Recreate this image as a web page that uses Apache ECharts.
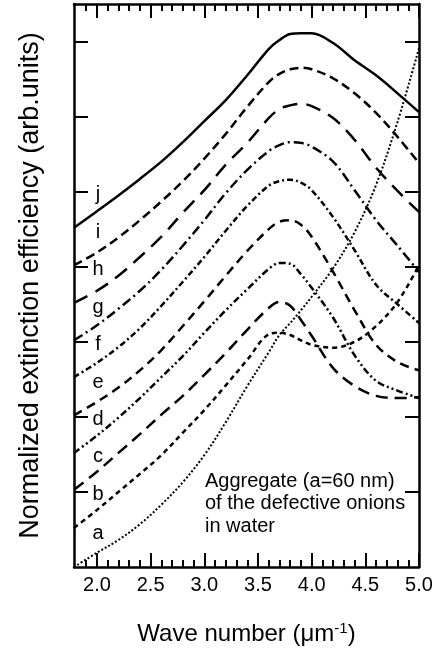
<!DOCTYPE html>
<html>
<head>
<meta charset="utf-8">
<script src="https://cdn.jsdelivr.net/npm/echarts@6/dist/echarts.min.js"></script>
<style>
  html, body { margin: 0; padding: 0; background: #fff; }
  #container { width: 440px; height: 652px; }
</style>
</head>
<body>
<div id="container"></div>
<script>
// wave number grid (um^-1), shared by all curves
var waveNumber = [1.786, 2.0, 2.2, 2.4, 2.6, 2.8, 3.0, 3.2, 3.4, 3.6, 3.7, 3.8, 3.9, 4.0, 4.2, 4.4, 4.6, 4.8, 5.0];

// normalized extinction, each curve shifted by 0.5
var curveA = [0.00, 0.19, 0.36, 0.57, 0.83, 1.13, 1.49, 1.93, 2.41, 2.86, 3.09, 3.25, 3.42, 3.60, 3.98, 4.46, 5.09, 5.93, 6.91];
var curveB = [0.52, 0.76, 1.00, 1.24, 1.49, 1.79, 2.09, 2.42, 2.76, 3.10, 3.12, 3.09, 3.02, 2.96, 2.92, 3.00, 3.21, 3.53, 4.02];
var curveC = [1.03, 1.27, 1.52, 1.77, 2.03, 2.28, 2.56, 2.85, 3.16, 3.45, 3.53, 3.48, 3.29, 3.08, 2.65, 2.41, 2.28, 2.25, 2.26];
var curveD = [1.52, 1.75, 1.99, 2.25, 2.53, 2.81, 3.12, 3.42, 3.70, 3.97, 4.05, 4.04, 3.90, 3.72, 3.32, 2.82, 2.48, 2.35, 2.25];
var curveE = [2.02, 2.20, 2.39, 2.62, 2.89, 3.21, 3.54, 3.88, 4.21, 4.50, 4.60, 4.62, 4.56, 4.40, 3.93, 3.42, 2.96, 2.73, 2.62];
var curveF = [2.53, 2.72, 2.93, 3.18, 3.48, 3.80, 4.13, 4.48, 4.81, 5.08, 5.14, 5.16, 5.12, 5.02, 4.66, 4.22, 3.76, 3.50, 3.25];
var curveG = [3.02, 3.22, 3.44, 3.68, 3.96, 4.28, 4.62, 4.98, 5.29, 5.54, 5.62, 5.66, 5.65, 5.60, 5.40, 5.02, 4.62, 4.28, 3.93];
var curveH = [3.52, 3.68, 3.88, 4.13, 4.40, 4.72, 5.02, 5.36, 5.65, 5.98, 6.10, 6.15, 6.17, 6.14, 5.98, 5.69, 5.32, 5.01, 4.73];
var curveI = [4.02, 4.19, 4.39, 4.62, 4.87, 5.14, 5.44, 5.77, 6.13, 6.46, 6.57, 6.63, 6.65, 6.63, 6.51, 6.31, 6.05, 5.73, 5.38];
var curveJ = [4.52, 4.74, 4.95, 5.17, 5.40, 5.66, 5.94, 6.22, 6.55, 6.90, 7.02, 7.10, 7.11, 7.11, 6.98, 6.75, 6.55, 6.31, 6.06];

var curveNames = ['a', 'b', 'c', 'd', 'e', 'f', 'g', 'h', 'i', 'j'];
var curves = [curveA, curveB, curveC, curveD, curveE, curveF, curveG, curveH, curveI, curveJ];

var xMajorTicks = [2.0, 2.5, 3.0, 3.5, 4.0, 4.5, 5.0];
var xMinorTicks = [1.9, 2.1, 2.2, 2.3, 2.4, 2.6, 2.7, 2.8, 2.9, 3.1, 3.2, 3.3, 3.4, 3.6, 3.7, 3.8, 3.9, 4.1, 4.2, 4.3, 4.4, 4.6, 4.7, 4.8, 4.9];
var yTicks = [1, 2, 3, 4, 5, 6, 7];

// line look per curve
var dashes = [[2, 2], [5, 4], [12, 7], [7, 3, 2, 3, 2, 3], [9, 6], [6, 3, 2, 3], [10, 4, 2, 4], [15, 9], [9, 5], 'solid'];

var font = '"Liberation Sans", Arial, Helvetica, sans-serif';
var black = '#000';

var chart = echarts.init(document.getElementById('container'));

function majorAxis(pos, withLabels) {
    return {
        type: 'value', position: pos, min: 1.786, max: 5.0,
        axisLine: { show: true, lineStyle: { color: black, width: 2.5 } },
        axisTick: { show: true, inside: true, length: 14, customValues: xMajorTicks, lineStyle: { color: black, width: 2 } },
        axisLabel: withLabels ? {
            show: true, customValues: xMajorTicks, margin: 8, color: black, fontSize: 20, fontFamily: font,
            formatter: function (v) { return v.toFixed(1); }
        } : { show: false },
        splitLine: { show: false }
    };
}
function minorAxis(pos) {
    return {
        type: 'value', position: pos, min: 1.786, max: 5.0,
        axisLine: { show: false },
        axisTick: { show: true, inside: true, length: 7, customValues: xMinorTicks, lineStyle: { color: black, width: 2 } },
        axisLabel: { show: false },
        splitLine: { show: false }
    };
}

var bottomAxis = majorAxis('bottom', true);
bottomAxis.name = '{t|Wave number (μm}{s|-1}{t|)}';
bottomAxis.nameLocation = 'middle';
bottomAxis.nameGap = 54;
bottomAxis.nameTextStyle = {
    rich: {
        t: { fontSize: 24, fontFamily: font, color: black },
        s: { fontSize: 15, fontFamily: font, color: black, verticalAlign: 'top', padding: [0, 0, 12, 0] }
    }
};

function yAxisDef(pos) {
    return {
        type: 'value', position: pos, min: 0, max: 7.5,
        axisLine: { show: true, lineStyle: { color: black, width: 2.5 } },
        axisTick: { show: true, inside: true, length: 14, customValues: yTicks, lineStyle: { color: black, width: 2 } },
        axisLabel: { show: false },
        splitLine: { show: false }
    };
}
var leftAxis = yAxisDef('left');
leftAxis.name = 'Normalized extinction efficiency (arb.units)';
leftAxis.nameLocation = 'middle';
leftAxis.nameGap = 30;
leftAxis.nameTextStyle = { fontSize: 27, fontFamily: font, color: black };

var series = curves.map(function (vals, i) {
    return {
        name: curveNames[i], type: 'line', xAxisIndex: 0, yAxisIndex: 0,
        data: waveNumber.map(function (x, k) { return [x, vals[k]]; }),
        smooth: 0.35, showSymbol: false, symbol: 'none', silent: true,
        lineStyle: { color: black, width: i === 0 ? 2 : 2.5, type: dashes[i] },
        z: 3
    };
});

// curve letters just above where each curve starts
series.push({
    type: 'scatter', xAxisIndex: 0, yAxisIndex: 0, silent: true,
    symbolSize: 0, itemStyle: { color: black, opacity: 1 },
    data: curves.map(function (vals, i) { return [2.01, vals[0] + 0.44, curveNames[i]]; }),
    label: {
        show: true, position: 'inside', fontSize: 20, fontFamily: font, color: black, opacity: 1,
        formatter: function (p) { return p.data[2]; }
    },
    z: 4
});

var option = {
    backgroundColor: '#fff',
    animation: false,
    grid: { left: 74, right: 21, top: 4, bottom: 85, containLabel: false, outerBoundsMode: 'none' },
    xAxis: [bottomAxis, minorAxis('bottom'), majorAxis('top', false), minorAxis('top')],
    yAxis: [leftAxis, yAxisDef('right')],
    graphic: [{
        type: 'text', left: 205, top: 470,
        style: {
            text: 'Aggregate (a=60 nm)\nof the defective onions\nin water',
            font: '20px ' + font, fill: black, lineHeight: 22.5
        }
    }],
    series: series
};
chart.setOption(option);
</script>
</body>
</html>
